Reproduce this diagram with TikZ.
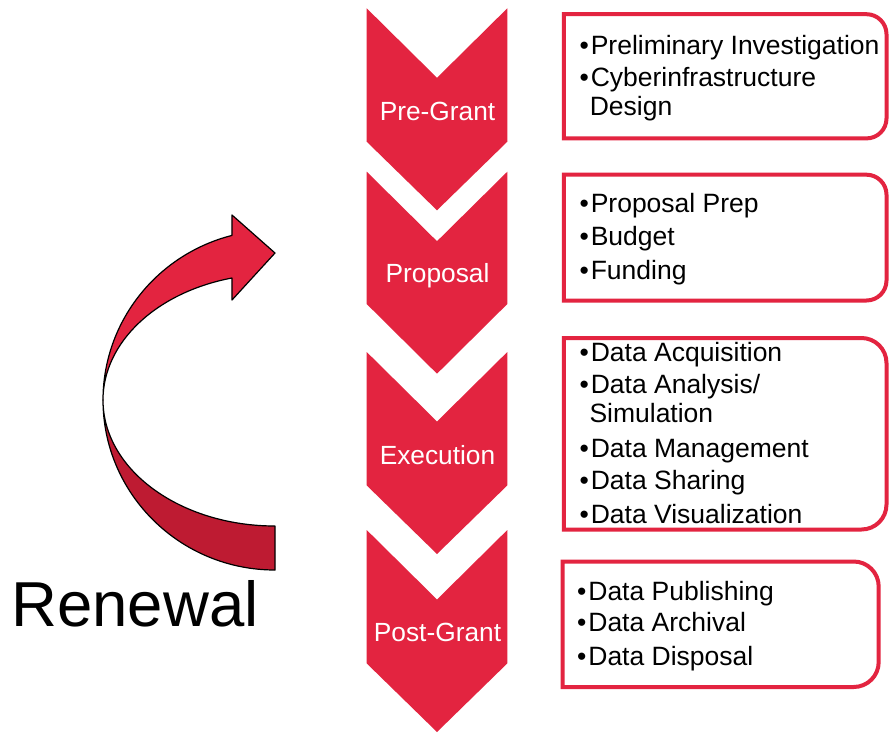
\documentclass[tikz,border=0pt]{standalone}
\usepackage{fontspec}
\setmainfont{Liberation Sans}
\definecolor{chevred}{HTML}{E32440}
\definecolor{darkred}{HTML}{BE1B32}
\tikzset{
  chev/.style={fill=chevred, draw=none},
  chevlabel/.style={text=white, font=\fontsize{26.3}{30}\selectfont, inner sep=0pt, anchor=base},
  item/.style={text=black, font=\fontsize{26.5}{30}\selectfont, inner sep=0pt, anchor=base west},
  boxline/.style={draw=chevred, line width=4pt, fill=none},
  ribbon/.style={draw=black, line width=1.2pt, line join=round},
}
\begin{document}
\begin{tikzpicture}[x=1pt,y=-1pt]
\useasboundingbox (0,0) rectangle (889,732);
\fill[white] (0,0) rectangle (889,732);

% chevrons
\fill[chev] (366.7,8.3) -- (437,77.8) -- (507.3,8.3) -- (507.3,141.7) -- (437,210.3) -- (366.7,141.7) -- cycle;
\fill[chev] (366.7,171.7) -- (437,241.2) -- (507.3,171.7) -- (507.3,304) -- (437,373.7) -- (366.7,304) -- cycle;
\fill[chev] (366.7,352) -- (437,421.5) -- (507.3,352) -- (507.3,485.4) -- (437,554) -- (366.7,485.4) -- cycle;
\fill[chev] (366.7,530) -- (437,599.5) -- (507.3,530) -- (507.3,663.4) -- (437,732) -- (366.7,663.4) -- cycle;

\node[chevlabel] (pregrant) at (437.5,120) {Pre-Grant};
\node[chevlabel] (proposal) at (437.5,282.7) {Proposal};
\node[chevlabel] (execution) at (437.5,464) {Execution};
\node[chevlabel] (postgrant) at (437.5,641.7) {Post-Grant};

% boxes
\draw[boxline] (563.8,14.2) -- (866.5,14.2) arc[start angle=270,end angle=360,radius=20] -- (886.5,118.4) arc[start angle=0,end angle=90,radius=20] -- (563.8,138.4) -- cycle;
\draw[boxline] (563.8,174.7) -- (866.5,174.7) arc[start angle=270,end angle=360,radius=20] -- (886.5,280.5) arc[start angle=0,end angle=90,radius=20] -- (563.8,300.5) -- cycle;
\draw[boxline] (563.8,338) -- (861.5,338) arc[start angle=270,end angle=360,radius=25] -- (886.5,504.5) arc[start angle=0,end angle=90,radius=25] -- (563.8,529.5) -- cycle;
\draw[boxline] (562.5,561.5) -- (853.7,561.5) arc[start angle=270,end angle=360,radius=25] -- (878.7,662) arc[start angle=0,end angle=90,radius=25] -- (562.5,687) -- cycle;

% box texts
\node[item] (a1) at (579.3,54.5) {•\kern2pt Preliminary Investigation};
\node[item] (a2) at (579.3,86.5) {•\kern2pt Cyberinfrastructure};
\node[item] (a3) at (589.6,115.3) {Design};

\node[item] (b1) at (579.3,212.5) {•\kern2pt Proposal Prep};
\node[item] (b2) at (579.3,245) {•\kern2pt Budget};
\node[item] (b3) at (579.3,279.5) {•\kern2pt Funding};

\node[item] (c1) at (579.3,361.7) {•\kern2pt Data Acquisition};
\node[item] (c2) at (579.3,393.3) {•\kern2pt Data Analysis/};
\node[item] (c3) at (589.3,422) {Simulation};
\node[item] (c4) at (579.3,457.3) {•\kern2pt Data Management};
\node[item] (c5) at (579.3,489) {•\kern2pt Data Sharing};
\node[item] (c6) at (579.3,523.3) {•\kern2pt Data Visualization};

\node[item] (d1) at (576.9,600) {•\kern2pt Data Publishing};
\node[item] (d2) at (576.9,631) {•\kern2pt Data Archival};
\node[item] (d3) at (576.9,665) {•\kern2pt Data Disposal};

% renewal arrow
\filldraw[ribbon, fill=darkred] (103,400) arc[start angle=180,end angle=90,x radius=172,y radius=170]
  -- (275,526) arc[start angle=90,end angle=180,x radius=172,y radius=126] -- cycle;
\filldraw[ribbon, fill=chevred] (103,400) arc[start angle=180,end angle=255.5,x radius=172,y radius=170]
  -- (232,215) -- (275,253) -- (232,300) -- (231.93,278)
  arc[start angle=255.5,end angle=180,x radius=172,y radius=126] -- cycle;

\node[inner sep=0pt, anchor=base west, font=\fontsize{63.5}{70}\selectfont] (renewal) at (11.3,626.7) {Renewal};
\end{tikzpicture}
\end{document}
